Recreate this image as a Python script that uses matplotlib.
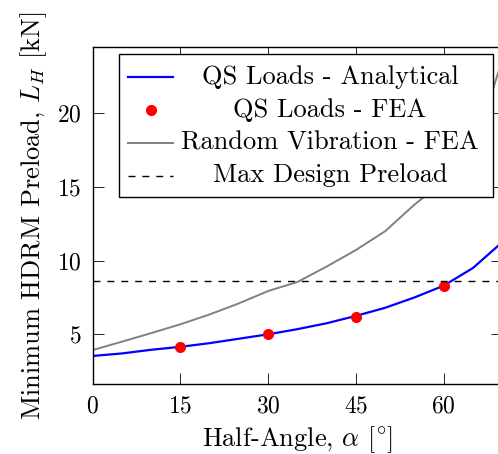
import matplotlib.pyplot as plt
from matplotlib.patches import Rectangle

plt.rcParams['font.family'] = 'serif'
plt.rcParams['font.serif'] = ['cmr10']
plt.rcParams['mathtext.fontset'] = 'cm'
plt.rcParams['axes.formatter.use_mathtext'] = True

# Datos
alpha = [0, 5, 10, 15, 20, 25, 30, 35, 40, 45, 50, 55, 60, 65, 70]
qs_analytical = [3.53, 3.7, 3.95, 4.15, 4.4, 4.7, 5.0, 5.35, 5.75, 6.25, 6.8, 7.5, 8.3, 9.5, 11.25]
rv_fea = [3.93, 4.5, 5.08, 5.68, 6.35, 7.1, 7.94, 8.55, 9.6, 10.72, 12.0, 13.8, 15.4, 17.4, 23.6]
fea_alpha = [15, 30, 45, 60]
qs_fea = [4.12, 5.02, 6.19, 8.30]
max_preload = 8.62

xticks = [0, 15, 30, 45, 60]
yticks = [5, 10, 15, 20]
labels = ['QS Loads - Analytical', 'QS Loads - FEA',
          'Random Vibration - FEA', 'Max Design Preload']

fs_tick = 17
fs_lab = 19
fs_leg = 19

fig = plt.figure(figsize=(4.98, 4.54), dpi=100)
# el eje se sale por la derecha, como en la imagen recortada
ax = fig.add_axes([0.1861, 0.1542, 0.8223, 0.7416])

ax.plot(alpha, qs_analytical, color='blue', lw=1.6)
ax.plot(fea_alpha, qs_fea, 'o', color='red', ms=8, mec='none')
ax.plot(alpha, rv_fea, color='gray', lw=1.4)
ax.axhline(max_preload, color='black', lw=1.0, ls=(0, (5, 5)))

ax.set_xlim(0, 70)
ax.set_ylim(1.627, 24.48)
ax.set_xticks(xticks)
ax.set_yticks(yticks)
ax.tick_params(direction='in', top=True, right=True, length=7.7, width=0.6,
               labelsize=fs_tick, pad=8)
for s in ax.spines.values():
    s.set_linewidth(1.0)

ax.set_xlabel(r'Half-Angle, $\alpha$ $[^{\!\circ}\!]$', fontsize=fs_lab, labelpad=5)
ax.set_ylabel(r'Minimum HDRM Preload, $L_H$ [kN]', fontsize=fs_lab, labelpad=6)

# Leyenda dibujada a mano para centrar el texto
ax.add_patch(Rectangle((0.065, 0.556), 0.913, 0.423, transform=ax.transAxes,
                       facecolor='white', edgecolor='black', lw=1.0, zorder=5))
hx = [0.0862, 0.196]
hy = [0.913, 0.814, 0.717, 0.619]
ty = [0.890, 0.792, 0.697, 0.599]
ax.plot(hx, [hy[0]] * 2, color='blue', lw=1.6, transform=ax.transAxes, zorder=6)
ax.plot([0.1424], [hy[1]], 'o', color='red', ms=8, mec='none',
        transform=ax.transAxes, zorder=6)
ax.plot(hx, [hy[2]] * 2, color='gray', lw=1.4, transform=ax.transAxes, zorder=6)
ax.plot(hx, [hy[3]] * 2, color='black', lw=1.0, ls=(0, (5, 5)),
        transform=ax.transAxes, zorder=6)
for lab, y in zip(labels, ty):
    ax.text(0.5795, y, lab, ha='center', va='baseline', fontsize=fs_leg,
            transform=ax.transAxes, zorder=7)

fig.savefig('out.png', dpi=100)
